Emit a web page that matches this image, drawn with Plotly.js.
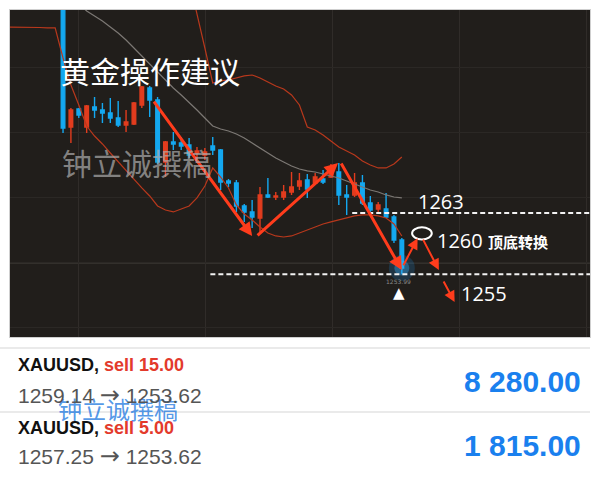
<!DOCTYPE html>
<html>
<head>
<meta charset="utf-8">
<script src="https://cdn.plot.ly/plotly-3.0.1.min.js"></script>
<style>
  html, body { margin: 0; padding: 0; background: #ffffff; }
  #chart { width: 600px; height: 478px; }
</style>
</head>
<body>
<div id="chart"></div>
<script>
// ---- XAUUSD candles (bar index, OHLC) ----
const barIdx = [0,1,2,3,4,5,6,7,8,9,10,11,12,13,14,15,16,17,18,19,20,21,22,23,24,25,26,27,28,29,30,31,32,33,34,35,36,37,38,39,40,41,42,43];
const openP  = [1296.00,1275.65,1278.29,1275.65,1278.59,1278.15,1277.71,1276.97,1275.94,1276.09,1278.88,1281.38,1279.62,1270.50,1273.44,1273.29,1273.00,1271.82,1271.53,1272.85,1272.26,1267.71,1267.41,1264.03,1263.15,1262.26,1265.65,1265.35,1265.35,1266.09,1266.97,1267.85,1267.41,1268.00,1268.29,1269.03,1265.65,1265.65,1267.41,1264.47,1263.59,1263.59,1262.41,1259.03];
const highP  = [1297.00,1278.44,1278.44,1278.88,1280.06,1279.18,1279.91,1279.47,1278.15,1279.32,1281.68,1281.68,1280.06,1273.59,1274.91,1274.18,1274.03,1272.71,1272.56,1274.18,1272.41,1268.00,1267.85,1264.32,1264.91,1266.82,1268.15,1266.09,1267.12,1269.03,1268.88,1268.74,1268.88,1269.32,1270.21,1270.35,1267.12,1268.88,1268.59,1265.50,1264.62,1265.94,1262.71,1259.32];
const lowP   = [1274.76,1273.29,1276.97,1274.76,1276.97,1276.24,1276.24,1275.65,1274.91,1275.94,1278.44,1277.12,1270.21,1268.29,1272.26,1272.26,1271.09,1270.35,1270.79,1271.53,1266.38,1266.82,1263.15,1261.68,1260.79,1260.06,1265.21,1264.91,1264.91,1265.65,1266.38,1265.21,1267.12,1267.26,1268.15,1264.18,1262.71,1265.35,1264.18,1263.15,1263.00,1262.26,1258.59,1253.99];
const closeP = [1275.50,1278.15,1277.41,1278.74,1278.15,1277.71,1276.97,1275.94,1276.38,1279.18,1281.53,1279.62,1270.50,1273.44,1273.15,1272.85,1271.53,1272.12,1271.97,1272.26,1267.56,1267.41,1264.03,1263.15,1262.41,1265.65,1265.35,1265.50,1266.09,1266.82,1267.71,1266.53,1268.29,1267.56,1269.62,1265.65,1265.35,1267.41,1264.47,1263.44,1264.18,1262.41,1259.03,1254.91];

// ---- Bollinger bands ----
const upperIdx  = [16,17,18,19,20,21,22,23,24,25,26,27,28,29,30,31,32,33,34,35,36,37,38,39,40,41,42,43];
const upperBand = [1297.26,1292.41,1287.26,1282.12,1282.41,1282.56,1282.85,1283.15,1283.29,1282.85,1282.26,1281.68,1281.24,1280.35,1278.88,1275.65,1275.21,1274.47,1273.59,1272.71,1272.12,1271.53,1270.65,1270.06,1269.62,1269.62,1270.21,1271.24];
const midIdx    = [2,3,4,5,6,7,8,9,10,11,12,13,14,15,16,17,18,19,20,21,22,23,24,25,26,27,28,29,30,31,32,33,34,35,36,37,38,39,40,41,42,43];
const midBand   = [1293.74,1292.71,1291.97,1291.24,1290.35,1289.47,1288.44,1287.26,1286.09,1284.91,1283.74,1282.56,1281.38,1280.35,1279.32,1278.15,1276.97,1275.79,1275.35,1275.06,1274.62,1274.03,1273.29,1272.56,1271.82,1271.09,1270.50,1269.91,1269.47,1269.18,1269.03,1268.74,1268.44,1268.15,1267.71,1267.26,1266.82,1266.38,1266.09,1265.65,1265.35,1265.21];
const lowerIdx  = [-7,-6,-5,-4,-3,-2,-1,0,1,2,3,4,5,6,7,8,9,10,11,12,13,14,15,16,17,18,19,20,21,22,23,24,25,26,27,28,29,30,31,32,33,34,35,36,37,38,39,40,41,42,43];
const lowerBand = [1290.35,1290.35,1290.35,1290.28,1290.28,1290.21,1290.21,1285.79,1281.82,1278.88,1275.79,1274.32,1273.15,1271.82,1270.50,1269.32,1268.00,1266.68,1265.50,1264.03,1263.44,1263.15,1263.59,1264.03,1265.21,1266.97,1269.62,1268.29,1266.68,1264.18,1262.85,1261.97,1260.94,1260.06,1259.62,1259.47,1259.62,1260.06,1260.50,1260.94,1261.38,1261.68,1261.97,1262.26,1262.56,1262.71,1262.71,1262.56,1262.26,1261.38,1259.62];

// ---- Key levels and the drawn trade path ----
const resistLevel = 1263;      // dashed line + label
const supportLevel = 1253.99;  // dashed line at the swing low
const levelStartIdx = [36.7, 18.7];
const pivotLevel = 1260;       // ellipse + label
const targetLevel = 1255;
const bidPrice = 1255.65;
const pathFromX = [11.4, 24.5, 35.2, 43.1, 45.6, 48.2];
const pathFromY = [1279.6, 1259.5, 1270.5, 1255.1, 1259.3, 1253.15];
const pathToX   = [24.0, 34.9, 43.0, 45.0, 47.7, 49.7];
const pathToY   = [1259.6, 1270.35, 1254.6, 1259.3, 1254.6, 1249.9];
const pathWidth = [3, 3, 3, 2, 2, 2];

// ---- Closed trades ----
const tradeSymbol = ['XAUUSD', 'XAUUSD'];
const tradeSide   = ['sell', 'sell'];
const tradeLots   = ['15.00', '5.00'];
const tradeOpen   = ['1259.14', '1257.25'];
const tradeClose  = ['1253.62', '1253.62'];
const tradeProfit = ['8 280.00', '1 815.00'];

const W = 600, H = 478;
const px = x => x / W;
const py = y => 1 - y / H;

const BLUE = '#14a8f0', RED = '#e23c1e', ARROW = '#ff3c1c';
const xRange = [-6.73, 66.88];
const yRange = [1244.76, 1292.85];

const traces = [
  { type: 'scatter', mode: 'lines', x: lowerIdx, y: lowerBand, line: { color: '#b8381c', width: 1.2 }, hoverinfo: 'skip' },
  { type: 'scatter', mode: 'lines', x: midIdx, y: midBand, line: { color: '#7c7874', width: 1.2 }, hoverinfo: 'skip' },
  { type: 'scatter', mode: 'lines', x: upperIdx, y: upperBand, line: { color: '#b8381c', width: 1.2 }, hoverinfo: 'skip' },
  // soft glow around the last bar's low
  { type: 'scatter', mode: 'markers', x: [barIdx[43]], y: [closeP[43]],
    marker: { size: 26, color: 'rgba(30,160,255,0.18)', line: { width: 0 } }, hoverinfo: 'skip' },
  { type: 'scatter', mode: 'markers', x: [barIdx[43]], y: [closeP[43]],
    marker: { size: 15, color: 'rgba(60,180,255,0.35)', line: { width: 0 } }, hoverinfo: 'skip' },
  { type: 'candlestick', x: barIdx, open: openP, high: highP, low: lowP, close: closeP,
    increasing: { line: { color: RED, width: 1.4 }, fillcolor: RED },
    decreasing: { line: { color: BLUE, width: 1.4 }, fillcolor: BLUE },
    whiskerwidth: 0, hoverinfo: 'skip' }
];

const shapes = [
  { type: 'line', xref: 'x', yref: 'y', x0: xRange[0], x1: xRange[1], y0: bidPrice, y1: bidPrice,
    line: { color: '#46423e', width: 1.2 }, layer: 'below' },
  { type: 'line', xref: 'x', yref: 'y', x0: levelStartIdx[0], x1: xRange[1], y0: resistLevel, y1: resistLevel,
    line: { color: '#f2f2f2', width: 2, dash: '5px,3px' } },
  { type: 'line', xref: 'x', yref: 'y', x0: levelStartIdx[1], x1: xRange[1], y0: supportLevel, y1: supportLevel,
    line: { color: '#f2f2f2', width: 2, dash: '5px,3px' } },
  { type: 'circle', xref: 'x', yref: 'y', x0: 44.3, x1: 46.8, y0: pivotLevel - 0.9, y1: pivotLevel + 0.9,
    line: { color: '#ffffff', width: 2 } },
  // separators in the trade list
  { type: 'line', xref: 'paper', yref: 'paper', x0: 0, x1: px(590), y0: py(348), y1: py(348), line: { color: '#e3e3e3', width: 1.5 } },
  { type: 'line', xref: 'paper', yref: 'paper', x0: 0, x1: px(590), y0: py(412), y1: py(412), line: { color: '#e3e3e3', width: 1.5 } }
];

const annotations = [];

// trade path arrows
for (let i = 0; i < pathFromX.length; i++) {
  annotations.push({
    xref: 'x', yref: 'y', axref: 'x', ayref: 'y',
    x: pathToX[i], y: pathToY[i], ax: pathFromX[i], ay: pathFromY[i],
    text: '', showarrow: true, arrowhead: 2, arrowsize: pathWidth[i] > 2 ? 0.9 : 1.1,
    arrowwidth: pathWidth[i], arrowcolor: ARROW, standoff: 0, startstandoff: 0
  });
}

const numFont = { family: 'Open Sans, Liberation Sans, sans-serif', size: 20, color: '#ffffff' };
annotations.push(
  { xref: 'x', yref: 'y', x: 44.8, y: resistLevel, yshift: 11, xanchor: 'left', yanchor: 'middle',
    text: String(resistLevel), showarrow: false, font: numFont },
  { xref: 'x', yref: 'y', x: 47.2, y: pivotLevel, yshift: -7, xanchor: 'left', yanchor: 'middle',
    text: pivotLevel + ' <span style="font-size:15px;font-family:Noto Sans CJK SC;font-weight:bold">顶底转换</span>',
    showarrow: false, font: numFont },
  { xref: 'x', yref: 'y', x: 50.2, y: targetLevel, yshift: -26, xanchor: 'left', yanchor: 'middle',
    text: String(targetLevel), showarrow: false, font: numFont },
  { xref: 'x', yref: 'y', x: barIdx[43], y: lowP[43], xshift: -3, yshift: -2, xanchor: 'center', yanchor: 'top',
    text: lowP[43].toFixed(2), showarrow: false, font: { family: 'DejaVu Sans', size: 6, color: '#8a8a8a' } },
  { xref: 'x', yref: 'y', x: barIdx[43], y: lowP[43], xshift: -3, yshift: -8, xanchor: 'center', yanchor: 'top',
    text: '▲', showarrow: false, font: { family: 'DejaVu Sans', size: 15, color: '#ffffff' } },
  // headline and author watermark
  { xref: 'paper', yref: 'paper', x: px(58), y: py(70), xanchor: 'left', yanchor: 'middle',
    text: '黄金操作建议', showarrow: false,
    font: { family: 'Noto Sans CJK SC', size: 30, color: '#ffffff' } },
  { xref: 'paper', yref: 'paper', x: px(60), y: py(162), xanchor: 'left', yanchor: 'middle',
    text: '钟立诚撰稿', showarrow: false,
    font: { family: 'Noto Sans CJK SC', size: 30, color: 'rgba(175,175,175,0.7)' } },
  { xref: 'paper', yref: 'paper', x: px(56), y: py(408), xanchor: 'left', yanchor: 'middle',
    text: '钟立诚撰稿', showarrow: false,
    font: { family: 'Noto Sans CJK SC', size: 24, color: 'rgba(40,125,225,0.8)' } }
);

// trade list rows
const rowHead = [365, 428];
const rowPrice = [395, 456];
const rowProfit = [381, 445];
for (let i = 0; i < tradeSymbol.length; i++) {
  annotations.push(
    { xref: 'paper', yref: 'paper', x: px(16), y: py(rowHead[i]), xanchor: 'left', yanchor: 'middle', showarrow: false,
      text: '<b>' + tradeSymbol[i] + ',</b> <b><span style="color:#e33a2c">' + tradeSide[i] + ' ' + tradeLots[i] + '</span></b>',
      font: { family: 'Liberation Sans, Arial, sans-serif', size: 18, color: '#111111' } },
    { xref: 'paper', yref: 'paper', x: px(16), y: py(rowPrice[i]), xanchor: 'left', yanchor: 'middle', showarrow: false,
      text: tradeOpen[i] + ' <span style="font-family:DejaVu Sans;font-size:24px">→</span> ' + tradeClose[i],
      font: { family: 'Liberation Sans, Arial, sans-serif', size: 21, color: '#555555' } },
    { xref: 'paper', yref: 'paper', x: px(583), y: py(rowProfit[i]), xanchor: 'right', yanchor: 'middle', showarrow: false,
      text: '<b>' + tradeProfit[i] + '</b>',
      font: { family: 'Liberation Sans, Arial, sans-serif', size: 30, color: '#1a80ee' } }
  );
}

const layout = {
  width: W, height: H, autosize: false,
  margin: { l: 0, r: 0, t: 0, b: 0, pad: 0 },
  paper_bgcolor: '#ffffff',
  plot_bgcolor: '#211e1b',
  showlegend: false,
  boxgap: 0.35,
  xaxis: {
    domain: [px(10), px(590)], range: xRange, fixedrange: true,
    rangeslider: { visible: false },
    showticklabels: false, ticks: '', zeroline: false,
    showgrid: true, tick0: 1.9, dtick: 16.12, gridcolor: '#302c29', gridwidth: 1,
    showline: true, mirror: true, linecolor: '#cfcfcf', linewidth: 1
  },
  yaxis: {
    domain: [py(337), py(10)], range: yRange, fixedrange: true,
    showticklabels: false, ticks: '', zeroline: false,
    showgrid: true, tick0: 1255.65, dtick: 9.56, gridcolor: '#2b2825', gridwidth: 1,
    showline: true, mirror: true, linecolor: '#cfcfcf', linewidth: 1
  },
  shapes: shapes,
  annotations: annotations
};

Plotly.newPlot('chart', traces, layout, { staticPlot: true, displayModeBar: false });
</script>
</body>
</html>
